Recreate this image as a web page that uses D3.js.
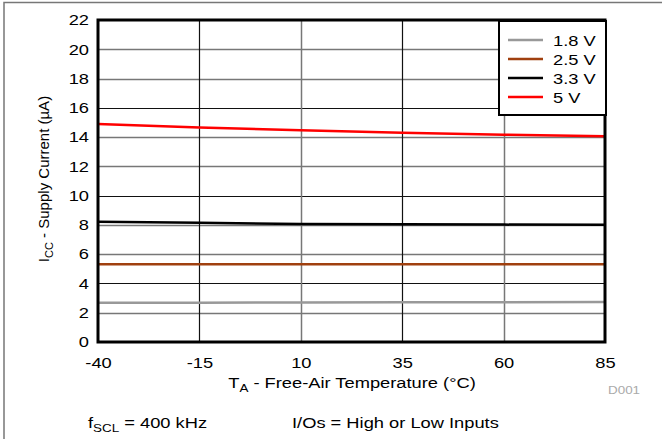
<!DOCTYPE html>
<html>
<head>
<meta charset="utf-8">
<script src="https://cdn.jsdelivr.net/npm/d3@7"></script>
<style>
  body { margin: 0; background: #fff; }
  svg { display: block; font-family: Arial, "Liberation Sans", sans-serif; }
</style>
</head>
<body>
<div id="main-container"></div>
<script>
// Data
const TEMPS = [-40, -15, 10, 35, 60, 85];
const X_TICKS = [-40, -15, 10, 35, 60, 85];
const Y_TICKS = [0, 2, 4, 6, 8, 10, 12, 14, 16, 18, 20, 22];
const SERIES_NAMES = ['1.8 V', '2.5 V', '3.3 V', '5 V'];
const SERIES_COLORS = ['#999999', '#a0400f', '#000000', '#ff0000'];
const I_18 = [2.69, 2.69, 2.70, 2.71, 2.72, 2.74];
const I_25 = [5.31, 5.31, 5.31, 5.31, 5.31, 5.31];
const I_33 = [8.22, 8.14, 8.07, 8.04, 8.02, 8.01];
const I_50 = [14.90, 14.66, 14.46, 14.30, 14.16, 14.05];
const SERIES_VALUES = [I_18, I_25, I_33, I_50];

const WIDTH = 662, HEIGHT = 439;
const PLOT = { left: 98, top: 20, right: 605, bottom: 342 };
const SX = 1.22; // horizontal text stretch seen in the original

const SVG = d3.select('#main-container').append('svg')
    .attr('width', WIDTH)
    .attr('height', HEIGHT);

// outer frame (only top/left visible)
SVG.append('rect')
    .attr('x', 4).attr('y', 2.5)
    .attr('width', 700).attr('height', 500)
    .attr('fill', 'none')
    .attr('stroke', '#777')
    .attr('stroke-width', 1.5);

const x = d3.scaleLinear().domain([-40, 85]).range([PLOT.left, PLOT.right]);
const y = d3.scaleLinear().domain([0, 22]).range([PLOT.bottom, PLOT.top]);

// helper: stretched text placed at (px, py)
function addText(parent, px, py, size, anchor) {
    return parent.append('g')
        .attr('transform', `translate(${px},${py}) scale(${SX},1)`)
        .append('text')
        .attr('text-anchor', anchor || 'start')
        .attr('font-size', size);
}

// Grid
const GRID = SVG.append('g');
GRID.selectAll('line.h')
    .data(Y_TICKS.slice(1, -1))
    .join('line')
    .attr('class', 'h')
    .attr('x1', PLOT.left).attr('x2', PLOT.right)
    .attr('y1', d => Math.round(y(d)) + 0.5).attr('y2', d => Math.round(y(d)) + 0.5)
    .attr('stroke', d => d % 6 === 4 ? '#111' : '#777')
    .attr('stroke-width', d => d % 6 === 4 ? 1.2 : 1.5);
GRID.selectAll('line.v')
    .data(X_TICKS.slice(1, -1))
    .join('line')
    .attr('class', 'v')
    .attr('y1', PLOT.top).attr('y2', PLOT.bottom)
    .attr('x1', d => Math.round(x(d)) + 0.5).attr('x2', d => Math.round(x(d)) + 0.5)
    .attr('stroke', (d, i) => i % 2 ? '#777' : '#111')
    .attr('stroke-width', (d, i) => i % 2 ? 1.5 : 1.2);

// Axes
const xAxis = d3.axisBottom(x).tickValues(X_TICKS).tickFormat(d => String(d)).tickSize(0).tickPadding(15);
SVG.append('g')
    .attr('transform', `translate(0,${PLOT.bottom})`)
    .call(xAxis)
    .call(g => g.select('.domain').remove())
    .call(g => g.selectAll('text')
        .attr('font-size', 15).attr('fill', '#000')
        .attr('font-family', 'Arial, "Liberation Sans", sans-serif')
        .attr('transform', `scale(${SX},1)`));

const yAxis = d3.axisLeft(y).tickValues(Y_TICKS).tickFormat(d => String(d)).tickSize(0);
SVG.append('g')
    .attr('transform', `translate(${PLOT.left},0)`)
    .call(yAxis)
    .call(g => g.select('.domain').remove())
    .call(g => g.selectAll('text')
        .attr('x', -9 / SX)
        .attr('font-size', 15).attr('fill', '#000')
        .attr('font-family', 'Arial, "Liberation Sans", sans-serif')
        .attr('transform', `scale(${SX},1)`));

// Lines
const line = d3.line()
    .x((d, i) => x(TEMPS[i]))
    .y(d => y(d));

SVG.append('g').selectAll('path')
    .data(SERIES_VALUES)
    .join('path')
    .attr('d', d => line(d))
    .attr('fill', 'none')
    .attr('stroke', (d, i) => SERIES_COLORS[i])
    .attr('stroke-width', 2.5);

// Plot frame
SVG.append('rect')
    .attr('x', PLOT.left).attr('y', PLOT.top)
    .attr('width', PLOT.right - PLOT.left).attr('height', PLOT.bottom - PLOT.top)
    .attr('fill', 'none')
    .attr('stroke', '#000')
    .attr('stroke-width', 3);

// Legend
const LEGEND = SVG.append('g');
LEGEND.append('rect')
    .attr('x', 499).attr('y', 21)
    .attr('width', 107).attr('height', 94)
    .attr('fill', '#fff')
    .attr('stroke', '#000')
    .attr('stroke-width', 2);
SERIES_NAMES.forEach((name, i) => {
    const ly = 40 + i * 19;
    LEGEND.append('line')
        .attr('x1', 508).attr('x2', 543)
        .attr('y1', ly).attr('y2', ly)
        .attr('stroke', SERIES_COLORS[i])
        .attr('stroke-width', 2.5);
    addText(LEGEND, 553, ly + 5.5, 15).text(name);
});

// Axis titles
const XT = addText(SVG, 352, 388, 15, 'middle');
XT.append('tspan').text('T');
XT.append('tspan').attr('font-size', 11).attr('dy', 4).text('A');
XT.append('tspan').attr('dy', -4).text(' - Free-Air Temperature (°C)');

const YT = SVG.append('text')
    .attr('transform', `translate(49, 179) rotate(-90)`)
    .attr('text-anchor', 'middle')
    .attr('font-size', 15);
YT.append('tspan').text('I');
YT.append('tspan').attr('font-size', 11).attr('dy', 4).text('CC');
YT.append('tspan').attr('dy', -4).text(' - Supply Current (µA)');

addText(SVG, 608, 394, 11).attr('fill', '#aaa').text('D001');

// Footer notes
const F1 = addText(SVG, 88, 428, 15);
F1.append('tspan').text('f');
F1.append('tspan').attr('font-size', 11).attr('dy', 4).text('SCL');
F1.append('tspan').attr('dy', -4).text(' = 400 kHz');

addText(SVG, 292, 428, 15).text('I/Os = High or Low Inputs');
</script>
</body>
</html>
